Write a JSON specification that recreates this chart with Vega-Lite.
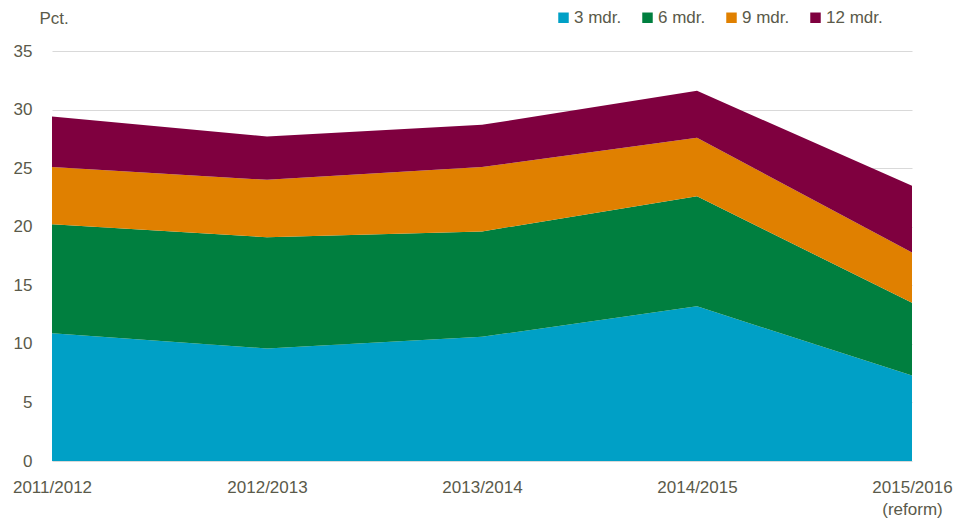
{
  "$schema": "https://vega.github.io/schema/vega-lite/v6.json",
  "width": 860,
  "height": 410,
  "autosize": "none",
  "padding": {"left": 52, "top": 51, "right": 42, "bottom": 59},
  "background": "white",
  "config": {
    "view": {"stroke": null},
    "font": "Liberation Sans",
    "axis": {"labelFont": "Liberation Sans", "titleFont": "Liberation Sans"},
    "legend": {"labelFont": "Liberation Sans"}
  },
  "data": {
    "values": [
      {"year": "2011/2012", "series": "3 mdr.", "k": 1, "value": 10.9},
      {"year": "2011/2012", "series": "6 mdr.", "k": 2, "value": 9.3},
      {"year": "2011/2012", "series": "9 mdr.", "k": 3, "value": 4.9},
      {"year": "2011/2012", "series": "12 mdr.", "k": 4, "value": 4.3},
      {"year": "2012/2013", "series": "3 mdr.", "k": 1, "value": 9.6},
      {"year": "2012/2013", "series": "6 mdr.", "k": 2, "value": 9.5},
      {"year": "2012/2013", "series": "9 mdr.", "k": 3, "value": 4.9},
      {"year": "2012/2013", "series": "12 mdr.", "k": 4, "value": 3.7},
      {"year": "2013/2014", "series": "3 mdr.", "k": 1, "value": 10.6},
      {"year": "2013/2014", "series": "6 mdr.", "k": 2, "value": 9.0},
      {"year": "2013/2014", "series": "9 mdr.", "k": 3, "value": 5.5},
      {"year": "2013/2014", "series": "12 mdr.", "k": 4, "value": 3.6},
      {"year": "2014/2015", "series": "3 mdr.", "k": 1, "value": 13.2},
      {"year": "2014/2015", "series": "6 mdr.", "k": 2, "value": 9.4},
      {"year": "2014/2015", "series": "9 mdr.", "k": 3, "value": 5.0},
      {"year": "2014/2015", "series": "12 mdr.", "k": 4, "value": 4.0},
      {"year": "2015/2016", "series": "3 mdr.", "k": 1, "value": 7.3},
      {"year": "2015/2016", "series": "6 mdr.", "k": 2, "value": 6.2},
      {"year": "2015/2016", "series": "9 mdr.", "k": 3, "value": 4.3},
      {"year": "2015/2016", "series": "12 mdr.", "k": 4, "value": 5.7}
    ]
  },
  "mark": {"type": "area", "opacity": 1},
  "encoding": {
    "x": {
      "field": "year",
      "type": "ordinal",
      "sort": null,
      "scale": {"type": "point", "padding": 0},
      "axis": {
        "title": null,
        "labelAngle": 0,
        "labelFontSize": 17,
        "labelColor": "#5a5a4a",
        "labelPadding": 18,
        "ticks": false,
        "domain": false,
        "grid": false,
        "labelOverlap": false,
        "labelBound": false,
        "labelLineHeight": 22,
        "labelExpr": "datum.value == '2015/2016' ? ['2015/2016', '(reform)'] : datum.value"
      }
    },
    "y": {
      "field": "value",
      "type": "quantitative",
      "stack": "zero",
      "scale": {"domain": [0, 35], "nice": false},
      "axis": {
        "values": [0, 5, 10, 15, 20, 25, 30, 35],
        "title": "Pct.",
        "titleAngle": 0,
        "titleAlign": "left",
        "titleBaseline": "middle",
        "titleX": -13,
        "titleY": -33,
        "titleFontSize": 17,
        "titleFontWeight": "normal",
        "titleColor": "#5a5a4a",
        "labelFontSize": 17,
        "labelColor": "#5a5a4a",
        "labelPadding": 20,
        "ticks": false,
        "domain": false,
        "grid": true,
        "gridColor": "#d9d9d9",
        "gridWidth": 1
      }
    },
    "color": {
      "field": "series",
      "type": "nominal",
      "sort": ["3 mdr.", "6 mdr.", "9 mdr.", "12 mdr."],
      "scale": {
        "domain": ["3 mdr.", "6 mdr.", "9 mdr.", "12 mdr."],
        "range": ["#00A0C6", "#007F3F", "#E08000", "#7F003F"]
      },
      "legend": {
        "title": null,
        "orient": "none",
        "direction": "horizontal",
        "legendX": 503,
        "legendY": -42,
        "symbolType": "square",
        "symbolSize": 110,
        "symbolStrokeWidth": 0,
        "symbolOpacity": 1,
        "labelFontSize": 17,
        "labelColor": "#5a5a4a",
        "labelOffset": 2,
        "columnPadding": 17
      }
    },
    "order": {"field": "k", "type": "quantitative", "sort": "ascending"}
  }
}
